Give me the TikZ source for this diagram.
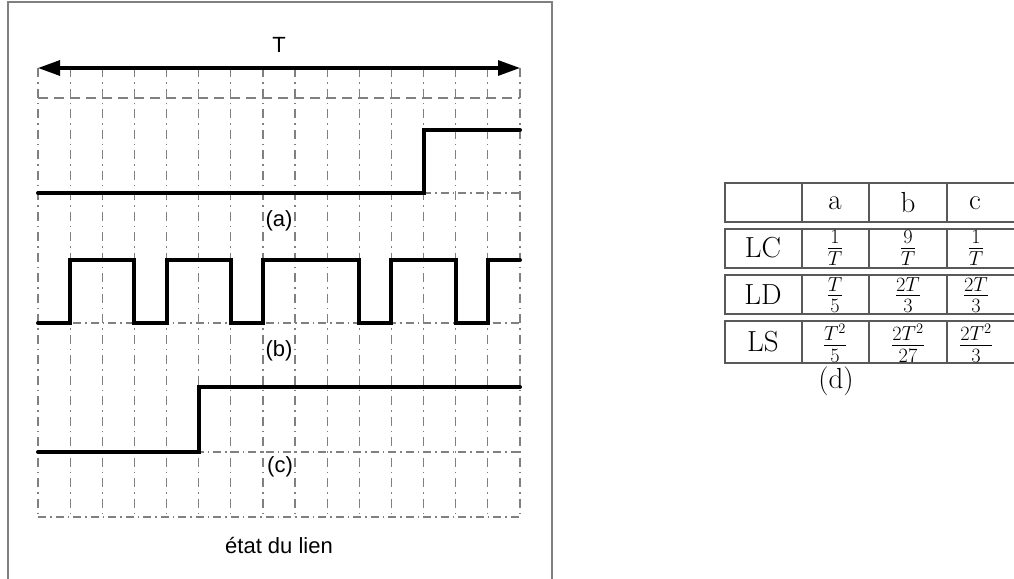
\RequirePackage{fix-cm}
\documentclass[tikz,border=0pt]{standalone}
\usepackage{fontspec}
\newfontfamily\arialfont{Liberation Sans}
\usetikzlibrary{arrows.meta}
\tikzset{
  frameline/.style={draw=black!50, line width=1.4pt},
  gridv/.style={draw=black!50, line width=1.2pt, dash pattern=on 9pt off 5pt on 1.5pt off 5pt},
  gridh/.style={draw=black!50, line width=1.2pt, dash pattern=on 8pt off 4pt on 1.5pt off 4pt},
  gridd/.style={draw=black!50, line width=1.2pt, dash pattern=on 10pt off 6pt},
  signal/.style={draw=black, line width=4pt, line cap=round, line join=miter},
  span/.style={draw=black, line width=3pt, {Triangle[length=22pt,width=15pt]}-{Triangle[length=22pt,width=15pt]}},
  lbl/.style={font=\arialfont\fontsize{22}{24}\selectfont, inner sep=0pt},
  rowbox/.style={draw=black!65, line width=1.3pt},
  cell/.style={font=\fontsize{29}{33}\selectfont, inner sep=0pt}
}
\begin{document}
\begin{tikzpicture}[x=1pt,y=-1pt]
\useasboundingbox (0,0) rectangle (1014,578);
% frame
\draw[frameline] (8,582) -- (8,2) -- (552,2) -- (552,582);
% grid
\foreach \i in {0,...,15} {
  \draw[gridv] ({38+\i*482/15},68) -- ({38+\i*482/15},517);
}
\draw[gridd] (38,98) -- (520,98);
\foreach \yy in {193,323,452,517} {
  \draw[gridh] (38,\yy) -- (520,\yy);
}
% span arrow
\coordinate (spanL) at (38,68);
\coordinate (spanR) at (520,68);
\draw[span] (spanL) -- (spanR);
\node[lbl] (tlabel) at (279,45) {T};
% signals
\draw[signal] (38,193) -- ({38+12*482/15},193) -- ({38+12*482/15},130) -- (520,130);
\draw[signal] (38,323)
  \foreach \a/\b in {1/3,4/6,7/10,11/13} {
    -- ({38+\a*482/15},323) -- ({38+\a*482/15},260) -- ({38+\b*482/15},260) -- ({38+\b*482/15},323)
  }
  -- ({38+14*482/15},323) -- ({38+14*482/15},260) -- (520,260);
\draw[signal] (38,452) -- ({38+5*482/15},452) -- ({38+5*482/15},387) -- (520,387);
\node[lbl] (la) at (279,221) {(a)};
\node[lbl] (lb) at (279,351) {(b)};
\node[lbl] (lc) at (280,467) {(c)};
\node[lbl] (etat) at (279,546) {état du lien};
% table
\draw[rowbox] (725,183) rectangle (1016,222);
\draw[rowbox] (725,229) rectangle (1016,268);
\draw[rowbox] (725,275) rectangle (1016,314);
\draw[rowbox] (725,321) rectangle (1016,363);
\foreach \xx in {802,869,947} {
  \draw[rowbox] (\xx,183) -- (\xx,222);
  \draw[rowbox] (\xx,229) -- (\xx,268);
  \draw[rowbox] (\xx,275) -- (\xx,314);
  \draw[rowbox] (\xx,321) -- (\xx,363);
}
\node[cell] (ha) at (835,203) {a};
\node[cell] (hb) at (908,203) {b};
\node[cell] (hc) at (975,203) {c};
\node[cell] (rlc) at (763,248) {LC};
\node[cell] (rld) at (763,295) {LD};
\node[cell] (rls) at (763,342) {LS};
\node[cell] (lca) at (835,248) {$\frac{1}{T}$};
\node[cell] (lcb) at (908,248) {$\frac{9}{T}$};
\node[cell] (lcc) at (976,248) {$\frac{1}{T}$};
\node[cell] (lda) at (835,295) {$\frac{T}{5}$};
\node[cell] (ldb) at (908,295) {$\frac{2T}{3}$};
\node[cell] (ldc) at (976,295) {$\frac{2T}{3}$};
\node[cell] (lsa) at (835,343) {$\frac{T^2}{5}$};
\node[cell] (lsb) at (908,343) {$\frac{2T^2}{27}$};
\node[cell] (lsc) at (976,343) {$\frac{2T^2}{3}$};
\node[cell] (dlabel) at (836,381) {(d)};
\end{tikzpicture}
\end{document}
